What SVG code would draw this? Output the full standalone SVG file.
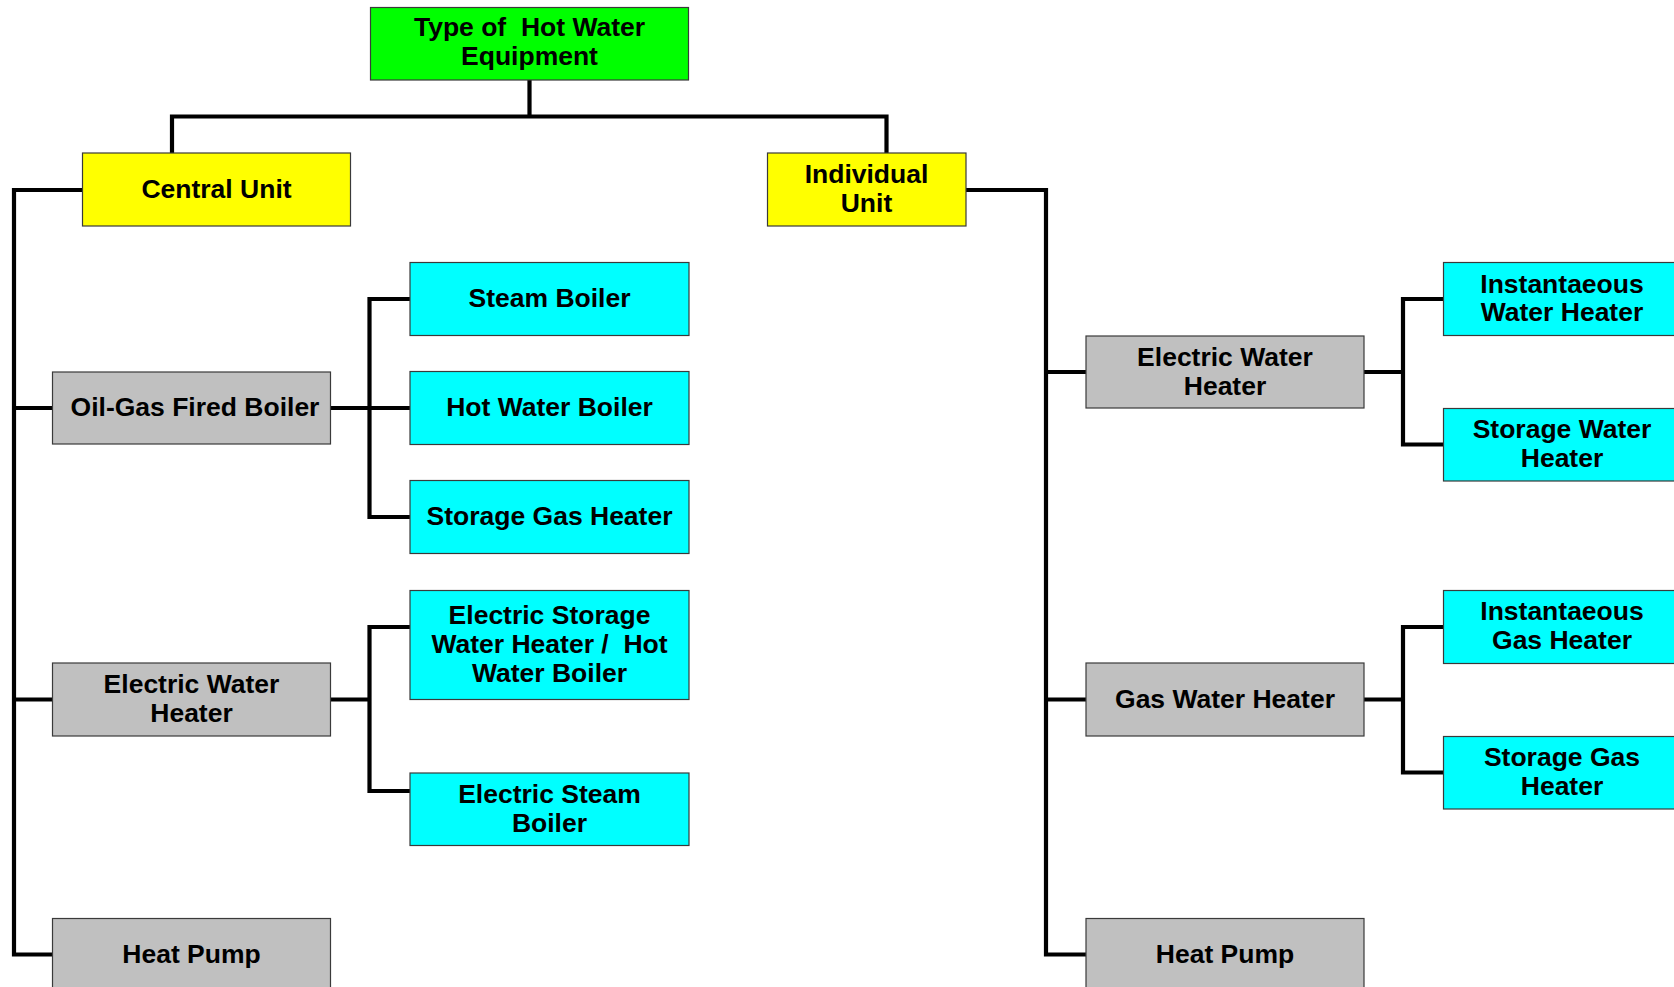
<svg xmlns="http://www.w3.org/2000/svg" width="1674" height="987" viewBox="0 0 1674 987">
<style>
.box{stroke:#3a3a3a;stroke-width:1.2}
.g{fill:#00FF00}.y{fill:#FFFF00}.c{fill:#00FFFF}.s{fill:#C0C0C0}
text{font-family:"Liberation Sans",Arial,sans-serif;font-weight:bold;font-size:26.5px;fill:#000;text-anchor:middle;dominant-baseline:central;white-space:pre}
.con{fill:none;stroke:#000;stroke-width:4.2;stroke-linejoin:miter;stroke-linecap:square}
</style>
<rect width="1674" height="987" fill="#fff"/>
<g id="connectors">
<path class="con" d="M529.5,80 V116.5 M172,153 V116.5 H886.5 V153"/>
<path class="con" d="M82.5,190 H14 V954.5 H52.5 M14,408 H52.5 M14,699.5 H52.5"/>
<path class="con" d="M330.5,408 H410 M410,299 H369.5 V517 H410"/>
<path class="con" d="M330.5,699.5 H369.5 M410,627 H369.5 V791 H410"/>
<path class="con" d="M966,190 H1046 V954.5 H1086 M1046,372 H1086 M1046,699.5 H1086"/>
<path class="con" d="M1364,372 H1403 M1443.5,299 H1403 V444.5 H1443.5"/>
<path class="con" d="M1364,699.5 H1403 M1443.5,627 H1403 V772.5 H1443.5"/>
</g>
<g id="root"><rect class="box g" x="370.5" y="7.5" width="318" height="72.5"/><text x="529.5" y="27" xml:space="preserve">Type of  Hot Water</text><text x="529.5" y="56">Equipment</text></g>
<g id="central"><rect class="box y" x="82.5" y="153" width="268" height="73"/><text x="216.5" y="188.5">Central Unit</text></g>
<g id="individual"><rect class="box y" x="767.5" y="153" width="198.5" height="73"/><text x="866.5" y="173.5">Individual</text><text x="866.5" y="202.5">Unit</text></g>
<g id="oilgas"><rect class="box s" x="52.5" y="372" width="278" height="72"/><text x="195" y="407">Oil-Gas Fired Boiler</text></g>
<g id="steam"><rect class="box c" x="410" y="262.5" width="279" height="73"/><text x="549.5" y="298">Steam Boiler</text></g>
<g id="hotwater"><rect class="box c" x="410" y="371.5" width="279" height="73"/><text x="549.5" y="407">Hot Water Boiler</text></g>
<g id="storagegas"><rect class="box c" x="410" y="480.5" width="279" height="73"/><text x="549.5" y="516">Storage Gas Heater</text></g>
<g id="elecL"><rect class="box s" x="52.5" y="663" width="278" height="73"/><text x="191.5" y="684">Electric Water</text><text x="191.5" y="713">Heater</text></g>
<g id="elecstorage"><rect class="box c" x="410" y="590.5" width="279" height="109"/><text x="549.5" y="614.5">Electric Storage</text><text x="549.5" y="643.5" xml:space="preserve">Water Heater /  Hot</text><text x="549.5" y="672.5">Water Boiler</text></g>
<g id="elecsteam"><rect class="box c" x="410" y="773" width="279" height="72.5"/><text x="549.5" y="793.5">Electric Steam</text><text x="549.5" y="822.5">Boiler</text></g>
<g id="heatpumpL"><rect class="box s" x="52.5" y="918.5" width="278" height="73"/><text x="191.5" y="953.5">Heat Pump</text></g>
<g id="elecR"><rect class="box s" x="1086" y="336" width="278" height="72"/><text x="1225" y="356.5">Electric Water</text><text x="1225" y="385.5">Heater</text></g>
<g id="instwater"><rect class="box c" x="1443.5" y="262.5" width="280" height="73"/><text x="1562" y="283.5">Instantaeous</text><text x="1562" y="312">Water Heater</text></g>
<g id="storagewater"><rect class="box c" x="1443.5" y="408.5" width="280" height="72.5"/><text x="1562" y="429">Storage Water</text><text x="1562" y="458">Heater</text></g>
<g id="gasR"><rect class="box s" x="1086" y="663" width="278" height="73"/><text x="1225" y="698.5">Gas Water Heater</text></g>
<g id="instgas"><rect class="box c" x="1443.5" y="590.5" width="280" height="73"/><text x="1562" y="611">Instantaeous</text><text x="1562" y="640">Gas Heater</text></g>
<g id="storagegasR"><rect class="box c" x="1443.5" y="736.5" width="280" height="72.5"/><text x="1562" y="757">Storage Gas</text><text x="1562" y="786">Heater</text></g>
<g id="heatpumpR"><rect class="box s" x="1086" y="918.5" width="278" height="73"/><text x="1225" y="953.5">Heat Pump</text></g>
</svg>
